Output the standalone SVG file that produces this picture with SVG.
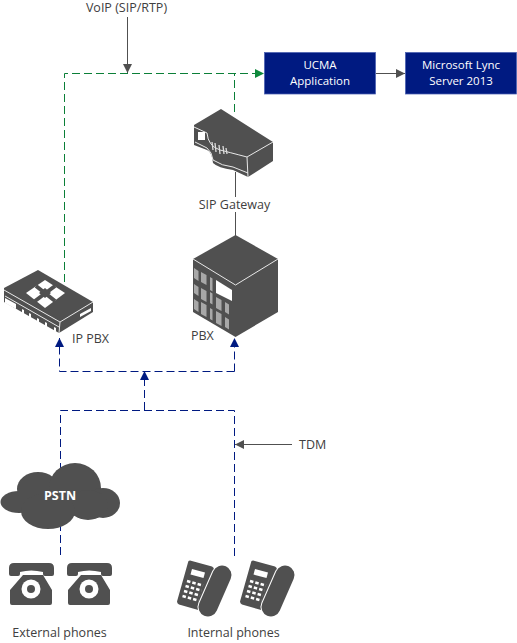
<svg xmlns="http://www.w3.org/2000/svg" width="517" height="643" viewBox="0 0 517 643">
<style>
text{font-family:"Open Sans","Noto Sans","Liberation Sans",sans-serif;font-size:12.500px;fill:#404040}
.c{text-anchor:middle}
.w{fill:#fff;font-size:11.500px}
.box{fill:#001A81;stroke:#4a5fb0;stroke-width:.75}
.d{fill:#505050}
.l{stroke:#e8e8e8;stroke-width:1;fill:none}
.gr{fill:none;stroke:#0B7F38;stroke-width:1;stroke-dasharray:8 4}
.bl{fill:none;stroke:#001A81;stroke-width:1;stroke-dasharray:8 4}
.k{fill:none;stroke:#505050;stroke-width:1}
</style>
<defs>
<marker id="ag" markerWidth="10" markerHeight="9" refX="9" refY="4.500" orient="auto" markerUnits="userSpaceOnUse"><path d="M0 0L9 4.500L0 9z" fill="#0F8A3C"/></marker>
<marker id="ab" markerWidth="10" markerHeight="9" refX="9" refY="4.500" orient="auto" markerUnits="userSpaceOnUse"><path d="M0 0L9 4.500L0 9z" fill="#001A81"/></marker>
<marker id="ak" markerWidth="10" markerHeight="9" refX="9" refY="4.500" orient="auto" markerUnits="userSpaceOnUse"><path d="M0 0L9 4.500L0 9z" fill="#505050"/></marker>
<g id="tel"><path class="d" d="M9 568q0-5 5-5h35q5 0 5 5v6q0 2-2 2h-7q-2 0-2-2v-2q-12-3-23 0v2q0 2-2 2h-7q-2 0-2-2zM23 575h20l9 15v13q0 2-2 2h-38q-2 0-2-2v-13z"/><circle cx="31" cy="589" r="9.500" fill="#fff"/><circle cx="31" cy="589" r="4" class="d"/></g>
<g id="desk"><path class="d" d="M190 560.500l22 6q2 1 2 3l-11 39q-1 2-3 2l-21-6q-2-1-2-3l11-39q0-2 2-2z"/><path d="M222 575L208 607" stroke="#fff" stroke-width="21" stroke-linecap="round" fill="none"/><path d="M222 575L208 607" stroke="#505050" stroke-width="19" stroke-linecap="round" fill="none"/><path d="M192 569l13 3.500-1.500 5.500-13-3.500z" fill="#fff"/><g fill="none" stroke="#fff" stroke-width="2.500" stroke-dasharray="3.500 2"><path d="M187 581l16 4.500"/><path d="M185.500 586l16 4.500"/><path d="M184 591l16 4.500"/><path d="M182.500 596l16 4.500"/></g></g>
</defs>

<g id="connectors">
<path class="gr" d="M64.500 282V73.500H264" marker-end="url(#ag)"/>
<path class="gr" d="M234.500 112V73.500"/>
<path class="k" d="M376 73.500H405" marker-end="url(#ak)"/>
<path class="k" d="M127.500 17V73" marker-end="url(#ak)"/>
<path class="k" d="M235.500 172V197M235.500 212V236"/>
<path class="bl" d="M234.500 371.500V338" marker-end="url(#ab)"/>
<path class="bl" d="M234.500 371.500H59.500V338" marker-end="url(#ab)"/>
<path class="bl" d="M60.500 555V410.500H234.500V558"/>
<path class="bl" d="M144.500 410V371" marker-end="url(#ab)"/>
<path class="k" d="M292 444.500H235" marker-end="url(#ak)"/>
</g>

<g id="voip-label"><text class="c" x="126.500" y="12">VoIP (SIP/RTP)</text></g>
<g id="tdm-label"><text x="299" y="449">TDM</text></g>

<g id="ucma"><rect class="box" x="264.500" y="52.500" width="111" height="41.500"/><text class="c w" x="320" y="68.500">UCMA</text><text class="c w" x="320" y="84.500">Application</text></g>
<g id="lync"><rect class="box" x="405.500" y="52.500" width="111" height="41.500"/><text class="c w" x="461" y="68.500">Microsoft Lync</text><text class="c w" x="461" y="84.500">Server 2013</text></g>

<g id="sip-gateway">
<path class="d" d="M221 109L273 142V161L248 177L233 170Q218 168 213 163Q212 152 207 150L194 145V125z"/>
<path class="l" d="M194 127L207 133Q208 146 220 150Q228 152 247 157L273 142M247 157L248 177M195 142L207 148Q212 152 213 160Q222 166 233 167L248 173"/>
<rect x="198" y="132" width="7" height="8" fill="#fff"/>
<path d="M212 142l1 8M215 143l1 9M219 145l1 9M223 146l1 8M226 148l1 6" stroke="#ddd" stroke-width="1.300" fill="none"/>
<text class="c" x="234.500" y="209">SIP Gateway</text>
</g>

<g id="pbx">
<path d="M235.500 235L278 259V312L235.500 337L193 312V259z" class="d"/>
<path class="l" d="M193 259L235.500 285L278 259"/>
<g fill="#a8a8a8"><path d="M194 268l4.500 3v10l-4.500-3zM194 284l4.500 3v9l-4.500-3zM194 299l4.500 3v10l-4.500-3zM201 272l5.500 3v10l-5.500-3zM201 288l5.500 3v11l-5.500-3zM201 302l5.500 3v12l-5.500-3zM210 277l2.500 1.500v13l-2.500-1.500zM210 292l2.500 1.500v11l-2.500-1.500zM210 308l2.500 1.500v11l-2.500-1.500zM216 297l5.500 3v11l-5.500-3zM216 311l5.500 3v12l-5.500-3zM225 302l4 2.500v10l-4-2.500zM225 317l4 2.500v10l-4-2.500z"/></g>
<path d="M216 280l16 10v11l-16-8z" fill="#fff"/>
<text x="191" y="340">PBX</text>
</g>

<g id="ip-pbx">
<path class="d" d="M38 270L93 302V312L59 333L4 302V288z"/>
<path class="l" d="M4 290L60 322L93 302M60 322L59 333M5 296L59 327"/>
<path d="M26 293L45 280L65 293L45 308z" fill="#fff"/>
<path d="M36 286L55 301M35 301L55 286" stroke="#505050" stroke-width="4" fill="none"/>
<path d="M45 288l6 5-6 5-6-5z" class="d"/>
<g fill="#fff"><path d="M5 298l11 6v5l-11-6zM22 309l2 1v5l-2-1zM29 313l2 1v5l-2-1zM37 318l2 1v5l-2-1zM45 322l2 1v5l-2-1zM54 327l2 1v4l-2-1zM80 314l11-6v3l-11 6z"/></g>
<text x="72" y="343">IP PBX</text>
</g>

<g id="pstn">
<g class="d"><ellipse cx="19" cy="502" rx="18.500" ry="11"/><ellipse cx="38" cy="489" rx="21" ry="17"/><ellipse cx="75" cy="488" rx="26" ry="25"/><ellipse cx="103" cy="503" rx="17" ry="15"/><ellipse cx="88" cy="505" rx="20" ry="15"/><ellipse cx="48" cy="511" rx="27" ry="18"/></g>
<text class="c" x="60" y="500" style="font-weight:700;fill:#fff">PSTN</text>
</g>

<g id="external-phones">
<use href="#tel"/>
<use href="#tel" x="58"/>
<text class="c" x="59.500" y="637">External phones</text>
</g>

<g id="internal-phones">
<use href="#desk"/>
<use href="#desk" x="63"/>
<text class="c" x="233.500" y="637">Internal phones</text>
</g>
</svg>
